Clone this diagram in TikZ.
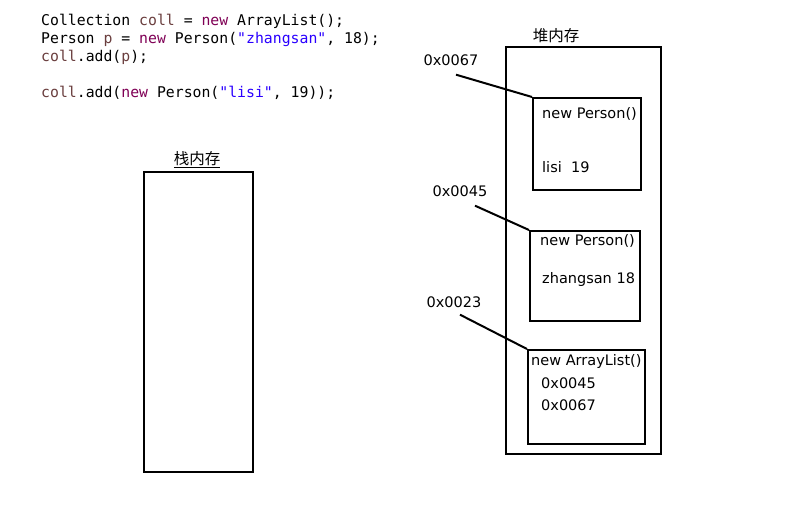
\documentclass[tikz,border=0pt]{standalone}
\usepackage{fontspec}
\setmainfont{DejaVu Sans}
\setmonofont{DejaVu Sans Mono}
\newfontfamily\cjk{Noto Sans CJK SC}
\definecolor{kw}{RGB}{127,0,85}
\definecolor{vr}{RGB}{106,62,62}
\definecolor{st}{RGB}{42,0,255}

\begin{document}
\begin{tikzpicture}[x=1pt, y=-1pt,
    mem/.style={draw, line width=2pt, anchor=north west, inner sep=0pt},
    txt/.style={anchor=west, inner sep=0pt, font=\fontsize{14.5}{16}\selectfont},
    code/.style={anchor=west, inner sep=0pt, font=\ttfamily\fontsize{14.8}{16}\selectfont},
    title/.style={inner sep=0pt, font=\cjk\fontsize{15.5}{17}\selectfont},
    link/.style={line width=2pt}]
    \useasboundingbox (0,0) rectangle (795,521);

    \node[code] (l1) at (41,21) {Collection \textcolor{vr}{coll} = \textcolor{kw}{new} ArrayList();};
    \node[code] (l2) at (41,39) {Person \textcolor{vr}{p} = \textcolor{kw}{new} Person(\textcolor{st}{"zhangsan"}, 18);};
    \node[code] (l3) at (41,57) {\textcolor{vr}{coll}.add(\textcolor{vr}{p});};
    \node[code] (l4) at (41,93) {\textcolor{vr}{coll}.add(\textcolor{kw}{new} Person(\textcolor{st}{"lisi"}, 19));};

    % stack
    \node[mem, minimum width=109, minimum height=300] (stack) at (143,171) {};
    \node[title] (stackname) at (197,160) {\underline{栈内存}};

    % heap
    \node[mem, minimum width=155, minimum height=407] (heap) at (505,46) {};
    \node[title] (heapname) at (556,36) {堆内存};

    \node[mem, minimum width=108, minimum height=92] (p2) at (532,97) {};
    \node[txt] at (542,114) {new Person()};
    \node[txt] at (542,167) {lisi\ \ 19};

    \node[mem, minimum width=110, minimum height=90] (p1) at (529,230) {};
    \node[txt] at (540,241) {new Person()};
    \node[txt] at (542,280) {zhangsan 18};

    \node[mem, minimum width=117, minimum height=94] (list) at (527,349) {};
    \node[txt] at (531,361) {new ArrayList()};
    \node[txt] at (541,383) {0x0045};
    \node[txt] at (541,405) {0x0067};

    % addresses
    \node[txt, anchor=center] (a67) at (451,60) {0x0067};
    \node[txt, anchor=center] (a45) at (460,191) {0x0045};
    \node[txt, anchor=center] (a23) at (454,302) {0x0023};

    \draw[link] ([xshift=5pt,yshift=-9pt]a67.south) -- (p2.north west);
    \draw[link] ([xshift=15pt,yshift=-9pt]a45.south) -- (p1.north west);
    \draw[link] ([xshift=6pt,yshift=-7pt]a23.south) -- (list.north west);
\end{tikzpicture}
\end{document}
